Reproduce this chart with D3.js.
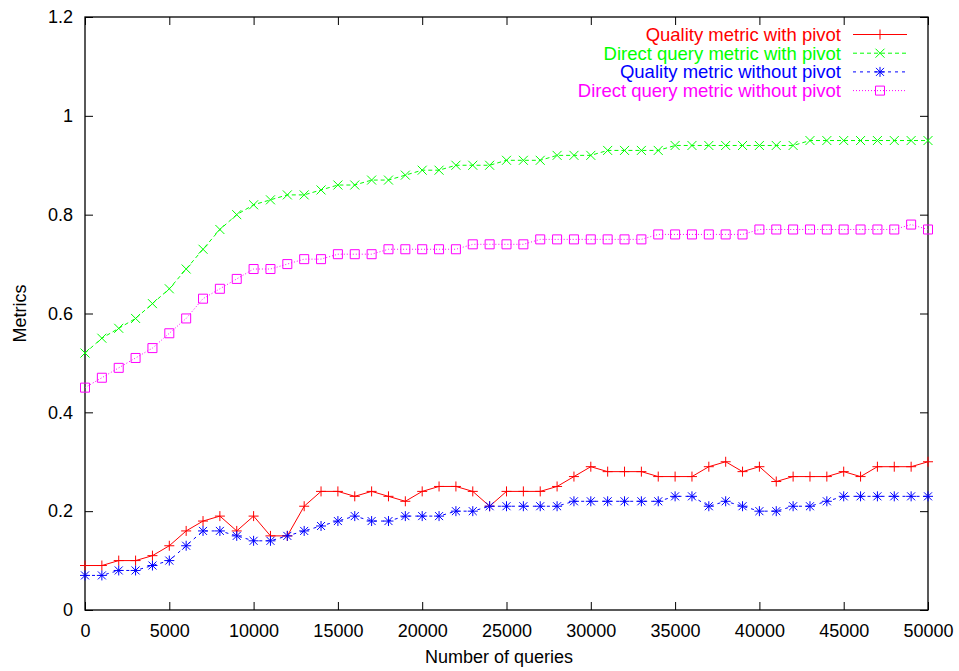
<!DOCTYPE html>
<html>
<head>
<meta charset="utf-8">
<script src="https://cdn.jsdelivr.net/npm/d3@7"></script>
<style>
  html, body { margin: 0; padding: 0; background: #fff; }
  svg { display: block; }
  text { font-family: "Liberation Sans", Arial, Helvetica, sans-serif; }
</style>
</head>
<body>
<svg id="chart" width="959" height="671"></svg>
<script>
// ---------------- data ----------------
const queries = d3.range(0, 50001, 1000); // 0,1000,...,50000

const qualityWithPivot = [
  0.09, 0.09, 0.10, 0.10, 0.11, 0.13, 0.16, 0.18, 0.19, 0.16,
  0.19, 0.15, 0.15, 0.21, 0.24, 0.24, 0.23, 0.24, 0.23, 0.22,
  0.24, 0.25, 0.25, 0.24, 0.21, 0.24, 0.24, 0.24, 0.25, 0.27,
  0.29, 0.28, 0.28, 0.28, 0.27, 0.27, 0.27, 0.29, 0.30, 0.28,
  0.29, 0.26, 0.27, 0.27, 0.27, 0.28, 0.27, 0.29, 0.29, 0.29,
  0.30
];
const directWithPivot = [
  0.52, 0.55, 0.57, 0.59, 0.62, 0.65, 0.69, 0.73, 0.77, 0.80,
  0.82, 0.83, 0.84, 0.84, 0.85, 0.86, 0.86, 0.87, 0.87, 0.88,
  0.89, 0.89, 0.90, 0.90, 0.90, 0.91, 0.91, 0.91, 0.92, 0.92,
  0.92, 0.93, 0.93, 0.93, 0.93, 0.94, 0.94, 0.94, 0.94, 0.94,
  0.94, 0.94, 0.94, 0.95, 0.95, 0.95, 0.95, 0.95, 0.95, 0.95,
  0.95
];
const qualityWithoutPivot = [
  0.07, 0.07, 0.08, 0.08, 0.09, 0.10, 0.13, 0.16, 0.16, 0.15,
  0.14, 0.14, 0.15, 0.16, 0.17, 0.18, 0.19, 0.18, 0.18, 0.19,
  0.19, 0.19, 0.20, 0.20, 0.21, 0.21, 0.21, 0.21, 0.21, 0.22,
  0.22, 0.22, 0.22, 0.22, 0.22, 0.23, 0.23, 0.21, 0.22, 0.21,
  0.20, 0.20, 0.21, 0.21, 0.22, 0.23, 0.23, 0.23, 0.23, 0.23,
  0.23
];
const directWithoutPivot = [
  0.45, 0.47, 0.49, 0.51, 0.53, 0.56, 0.59, 0.63, 0.65, 0.67,
  0.69, 0.69, 0.70, 0.71, 0.71, 0.72, 0.72, 0.72, 0.73, 0.73,
  0.73, 0.73, 0.73, 0.74, 0.74, 0.74, 0.74, 0.75, 0.75, 0.75,
  0.75, 0.75, 0.75, 0.75, 0.76, 0.76, 0.76, 0.76, 0.76, 0.76,
  0.77, 0.77, 0.77, 0.77, 0.77, 0.77, 0.77, 0.77, 0.77, 0.78,
  0.77
];

const seriesNames = [
  "Quality metric with pivot",
  "Direct query metric with pivot",
  "Quality metric without pivot",
  "Direct query metric without pivot"
];
const xTicks = [0, 5000, 10000, 15000, 20000, 25000, 30000, 35000, 40000, 45000, 50000];
const yTicks = [0, 0.2, 0.4, 0.6, 0.8, 1, 1.2];
const xTitle = "Number of queries";
const yTitle = "Metrics";

// ---------------- styles ----------------
const styles = [
  { color: "#ff0000", dash: null,  marker: "plus" },
  { color: "#00ff00", dash: "4,3", marker: "cross" },
  { color: "#0000ff", dash: "3,4", marker: "star" },
  { color: "#ff00ff", dash: "1,2", marker: "box" }
];
const allValues = [qualityWithPivot, directWithPivot, qualityWithoutPivot, directWithoutPivot];

const markerPath = {
  plus:  "M-5,0H5M0,-5V5",
  cross: "M-4.5,-4.5L4.5,4.5M-4.5,4.5L4.5,-4.5",
  star:  "M-5,0H5M0,-5V5M-4,-4L4,4M-4,4L4,-4",
  box:   "M-4.5,-4.5H4.5V4.5H-4.5Z"
};

// ---------------- layout ----------------
const svg = d3.select("#chart");
const L = 85, R = 928, T = 17, B = 610;
const x = d3.scaleLinear().domain([0, 50000]).range([L, R]);
const y = d3.scaleLinear().domain([0, 1.2]).range([B, T]);

// axes with inward ticks
const fontSize = 18;
const gx = svg.append("g").attr("transform", `translate(0,${B})`)
  .call(d3.axisBottom(x).tickValues(xTicks).tickFormat(d3.format("d"))
    .tickSizeInner(-8).tickSizeOuter(0).tickPadding(14));
const gy = svg.append("g").attr("transform", `translate(${L},0)`)
  .call(d3.axisLeft(y).tickValues(yTicks).tickFormat(d => String(+d.toFixed(1)))
    .tickSizeInner(-8).tickSizeOuter(0).tickPadding(12));
const gxt = svg.append("g").attr("transform", `translate(0,${T})`)
  .call(d3.axisTop(x).tickValues(xTicks).tickFormat("").tickSizeInner(-8).tickSizeOuter(0));
const gyr = svg.append("g").attr("transform", `translate(${R},0)`)
  .call(d3.axisRight(y).tickValues(yTicks).tickFormat("").tickSizeInner(-8).tickSizeOuter(0));

[gx, gy, gxt, gyr].forEach(g => {
  g.select(".domain").remove();
  g.selectAll(".tick line").attr("stroke", "#000").attr("stroke-width", 1);
  g.selectAll(".tick text").attr("fill", "#000")
    .style("font-size", fontSize + "px")
    .style("font-family", '"Liberation Sans", Arial, sans-serif');
});

// frame
svg.append("rect")
  .attr("x", L).attr("y", T).attr("width", R - L).attr("height", B - T)
  .attr("fill", "none").attr("stroke", "#000").attr("stroke-width", 1.3);

// axis titles
svg.append("text")
  .attr("x", 499).attr("y", 663)
  .attr("text-anchor", "middle")
  .style("font-size", fontSize + "px")
  .text(xTitle);
svg.append("text")
  .attr("transform", `translate(26,${(T + B) / 2}) rotate(-90)`)
  .attr("text-anchor", "middle")
  .style("font-size", fontSize + "px")
  .text(yTitle);

// series
const line = d3.line().x((d, i) => x(queries[i])).y(d => y(d));
allValues.forEach((vals, si) => {
  const st = styles[si];
  const g = svg.append("g");
  g.append("path")
    .datum(vals)
    .attr("d", line)
    .attr("fill", "none")
    .attr("stroke", st.color)
    .attr("stroke-width", 1)
    .attr("stroke-dasharray", st.dash);
  g.selectAll("path.m")
    .data(vals)
    .join("path")
    .attr("class", "m")
    .attr("transform", (d, i) => `translate(${x(queries[i])},${y(d)})`)
    .attr("d", markerPath[st.marker])
    .attr("fill", "none")
    .attr("stroke", st.color)
    .attr("stroke-width", 1);
});

// legend
const legendTextX = 841, sampleX1 = 853, sampleX2 = 907, legendY0 = 34.5, legendDY = 18.7;
seriesNames.forEach((name, i) => {
  const st = styles[i];
  const yy = legendY0 + i * legendDY;
  svg.append("text")
    .attr("x", legendTextX).attr("y", yy)
    .attr("dy", "0.35em")
    .attr("text-anchor", "end")
    .attr("fill", st.color)
    .style("font-size", "18.5px")
    .text(name);
  svg.append("line")
    .attr("x1", sampleX1).attr("x2", sampleX2)
    .attr("y1", yy).attr("y2", yy)
    .attr("stroke", st.color)
    .attr("stroke-width", 1)
    .attr("stroke-dasharray", st.dash);
  svg.append("path")
    .attr("transform", `translate(${(sampleX1 + sampleX2) / 2},${yy})`)
    .attr("d", markerPath[st.marker])
    .attr("fill", "none")
    .attr("stroke", st.color)
    .attr("stroke-width", 1);
});
</script>
</body>
</html>
